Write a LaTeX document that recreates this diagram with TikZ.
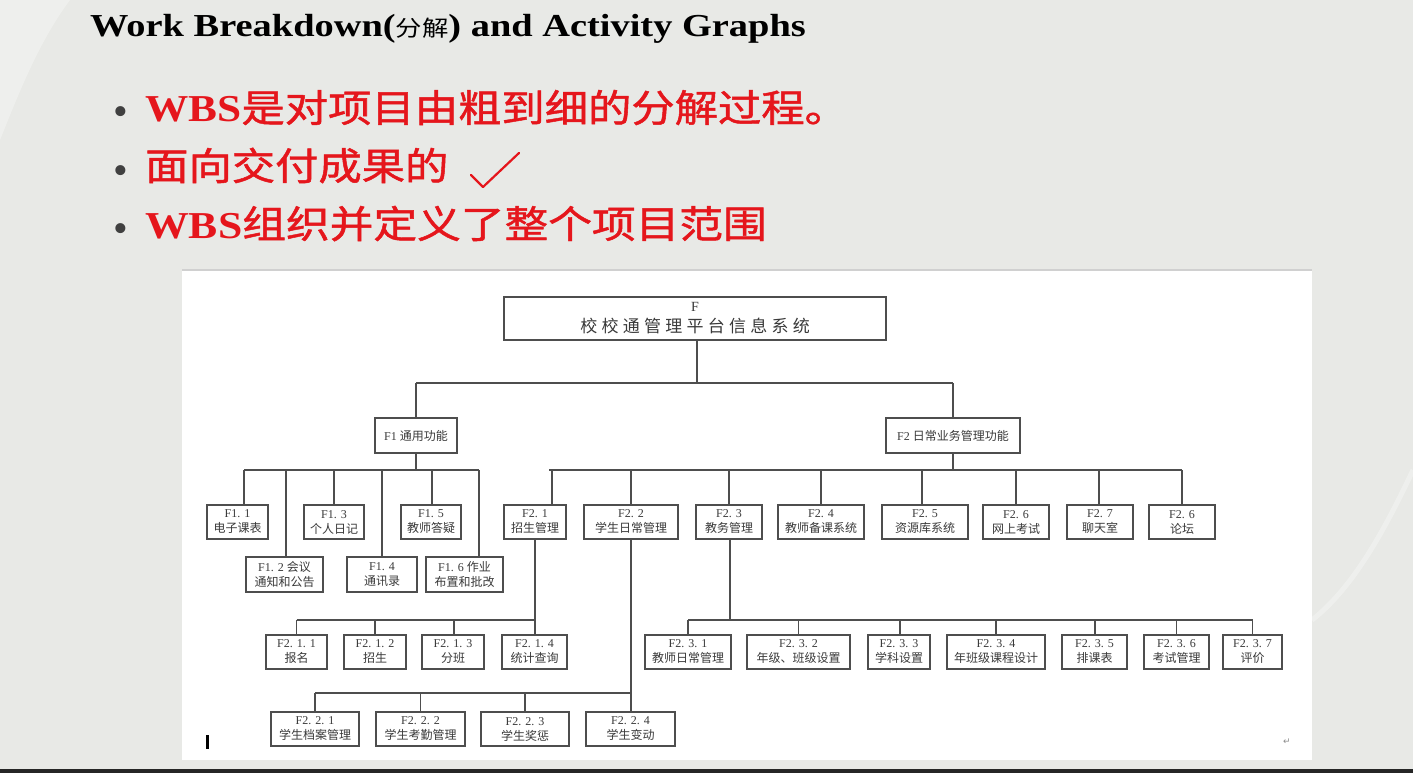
\documentclass[tikz,border=0pt]{standalone}
\usepackage{fontspec}
\setmainfont{Liberation Serif}
\newfontfamily\cjk{Noto Sans CJK SC}
\newfontfamily\cjkheavy[FakeBold=1.2]{Noto Sans CJK SC}
\newfontfamily\cjkwide[LetterSpace=25]{Noto Sans CJK SC}
\newfontfamily\symfont{DejaVu Sans}

\definecolor{slidebg}{HTML}{E8E9E6}
\definecolor{bulletred}{HTML}{E5161C}
\definecolor{boxline}{HTML}{4E4E4E}
\definecolor{boxtext}{HTML}{3A3A3A}
\definecolor{panelline}{HTML}{D0D0D0}

\tikzset{
  wbox/.style={draw=boxline, line width=1.3pt, fill=white, text=boxtext,
    align=center, inner sep=0pt, minimum height=34pt,
    font=\fontsize{12}{15}\selectfont},
  conn/.style={draw=boxline, line width=1.3pt},
  bullet/.style={anchor=base west, text=bulletred, inner sep=0pt},
  dot/.style={anchor=base west, text=black!75, inner sep=0pt,
    font=\fontsize{42}{42}\selectfont},
}

% vertical drop from a bus line to the top of a box (optional x offset)
\newcommand\dropto[3]{\draw[conn] ([xshift=#3]#1.north) -- ([xshift=#3]#1.north |- #2);}

\begin{document}
\begin{tikzpicture}[x=1pt,y=-1pt]
\useasboundingbox (0,0) rectangle (1413,773);
\fill[slidebg] (0,0) rectangle (1413,773);
% soft highlights of the slide background
\fill[white, opacity=0.3] (0,0) -- (70,0) .. controls (40,40) and (20,90) .. (0,140) -- cycle;
\draw[white, opacity=0.3, line width=5pt] (1413,470) .. controls (1380,540) and (1350,590) .. (1312,620);
\fill[black!85] (0,769) rectangle (1413,773);

% heading and bullets
\node[anchor=base west, inner sep=0pt] (title) at (90,37)
  {\scalebox{1.2}[1]{\fontsize{32}{32}\selectfont\bfseries Work Breakdown({\cjk\mdseries\fontsize{22}{22}\selectfont 分解}) and Activity Graphs}};

\node[dot] (d1) at (113,126) {•};
\node[bullet] (b1) at (145,122)
  {\scalebox{1.14}[1]{\fontsize{38}{38}\selectfont\bfseries WBS{\cjkheavy\mdseries 是对项目由粗到细的分解过程。}}};
\node[dot] (d2) at (113,184) {•};
\node[bullet] (b2) at (145,180)
  {\scalebox{1.14}[1]{\fontsize{38}{38}\selectfont\cjkheavy 面向交付成果的}};
\draw[bulletred, line width=2.2pt, line cap=round, line join=round]
  (471,175) -- (483,187) -- (519,153);
\node[dot] (d3) at (113,242) {•};
\node[bullet] (b3) at (145,238)
  {\scalebox{1.15}[1]{\fontsize{38}{38}\selectfont\bfseries WBS{\cjkheavy\mdseries 组织并定义了整个项目范围}}};

% white panel holding the chart
\fill[white] (182,270) rectangle (1312,760);
\draw[panelline, line width=2pt] (182,270) -- (1312,270);

% bus lines
\coordinate (busR) at (0,383);
\coordinate (busA) at (0,470);
\coordinate (busB) at (0,620);
\coordinate (busC) at (0,693);

% root
\node[wbox, minimum width=382pt, minimum height=43pt] (root) at (695,318.5)
  {\fontsize{14}{14}\selectfont F\\[6pt]{\cjkwide\fontsize{17}{17}\selectfont 校校通管理平台信息系统}};

% second level
\node[wbox, minimum width=82pt, minimum height=35pt] (f1) at (416,435.5) {F1 {\cjk 通用功能}};
\node[wbox, minimum width=134pt, minimum height=35pt] (f2) at (953,435.5) {F2 {\cjk 日常业务管理功能}};

% F1 children
\node[wbox, minimum width=61pt] (f11) at (237.5,522) {F1. 1\\{\cjk 电子课表}};
\node[wbox, minimum width=60pt] (f13) at (334,522) {F1. 3\\{\cjk 个人日记}};
\node[wbox, minimum width=60pt] (f15) at (431,522) {F1. 5\\{\cjk 教师答疑}};
\node[wbox, minimum width=77pt, minimum height=35pt] (f12) at (284.5,574.5) {F1. 2 {\cjk 会议}\\{\cjk 通知和公告}};
\node[wbox, minimum width=70pt, minimum height=35pt] (f14) at (382,574.5) {F1. 4\\{\cjk 通讯录}};
\node[wbox, minimum width=77pt, minimum height=35pt] (f16) at (464.5,574.5) {F1. 6 {\cjk 作业}\\{\cjk 布置和批改}};

% F2 children
\node[wbox, minimum width=62pt] (f21) at (535,522) {F2. 1\\{\cjk 招生管理}};
\node[wbox, minimum width=94pt] (f22) at (631,522) {F2. 2\\{\cjk 学生日常管理}};
\node[wbox, minimum width=66pt] (f23) at (729,522) {F2. 3\\{\cjk 教务管理}};
\node[wbox, minimum width=86pt] (f24) at (821,522) {F2. 4\\{\cjk 教师备课系统}};
\node[wbox, minimum width=86pt] (f25) at (925,522) {F2. 5\\{\cjk 资源库系统}};
\node[wbox, minimum width=66pt] (f26) at (1016,522) {F2. 6\\{\cjk 网上考试}};
\node[wbox, minimum width=66pt] (f27) at (1100,522) {F2. 7\\{\cjk 聊天室}};
\node[wbox, minimum width=66pt] (f28) at (1182,522) {F2. 6\\{\cjk 论坛}};

% F2.1 children
\node[wbox, minimum width=61pt] (f211) at (296.5,652) {F2. 1. 1\\{\cjk 报名}};
\node[wbox, minimum width=62pt] (f212) at (375,652) {F2. 1. 2\\{\cjk 招生}};
\node[wbox, minimum width=62pt] (f213) at (453,652) {F2. 1. 3\\{\cjk 分班}};
\node[wbox, minimum width=65pt] (f214) at (534.5,652) {F2. 1. 4\\{\cjk 统计查询}};

% F2.2 children
\node[wbox, minimum width=88pt] (f221) at (315,729) {F2. 2. 1\\{\cjk 学生档案管理}};
\node[wbox, minimum width=89pt] (f222) at (420.5,729) {F2. 2. 2\\{\cjk 学生考勤管理}};
\node[wbox, minimum width=88pt] (f223) at (525,729) {F2. 2. 3\\{\cjk 学生奖惩}};
\node[wbox, minimum width=89pt] (f224) at (630.5,729) {F2. 2. 4\\{\cjk 学生变动}};

% F2.3 children
\node[wbox, minimum width=86pt] (f231) at (688,652) {F2. 3. 1\\{\cjk 教师日常管理}};
\node[wbox, minimum width=103pt] (f232) at (798.5,652) {F2. 3. 2\\{\cjk 年级、班级设置}};
\node[wbox, minimum width=62pt] (f233) at (899,652) {F2. 3. 3\\{\cjk 学科设置}};
\node[wbox, minimum width=98pt] (f234) at (996,652) {F2. 3. 4\\{\cjk 年班级课程设计}};
\node[wbox, minimum width=65pt] (f235) at (1094.5,652) {F2. 3. 5\\{\cjk 排课表}};
\node[wbox, minimum width=65pt] (f236) at (1176.5,652) {F2. 3. 6\\{\cjk 考试管理}};
\node[wbox, minimum width=59pt] (f237) at (1252.5,652) {F2. 3. 7\\{\cjk 评价}};

% root to level two
\draw[conn] ([xshift=2pt]root.south) -- ([xshift=2pt]root.south |- busR);
\draw[conn] (f1.north |- busR) -- (f2.north |- busR);
\dropto{f1}{busR}{0pt}
\dropto{f2}{busR}{0pt}

% F1 branch
\draw[conn] (f1.south) -- (f1.south |- busA);
\draw[conn] ([xshift=6.5pt]f11.north |- busA) -- ([xshift=14.5pt]f16.north |- busA);
\dropto{f11}{busA}{6.5pt}
\draw[conn] ([xshift=1.5pt]f12.north) -- ([xshift=1.5pt]f12.north |- busA);
\dropto{f13}{busA}{0pt}
\dropto{f14}{busA}{0pt}
\dropto{f15}{busA}{1pt}
\dropto{f16}{busA}{14.5pt}

% F2 branch
\draw[conn] (f2.south) -- (f2.south |- busA);
\draw[conn] ([xshift=14pt]f21.north |- busA) -- (f28.north |- busA);
\dropto{f21}{busA}{17pt}
\dropto{f22}{busA}{0pt}
\dropto{f23}{busA}{0pt}
\dropto{f24}{busA}{0pt}
\dropto{f25}{busA}{-3pt}
\dropto{f26}{busA}{0pt}
\dropto{f27}{busA}{-1pt}
\dropto{f28}{busA}{0pt}

% F2.1 branch
\draw[conn] (f21.south) -- (f21.south |- busB);
\draw[conn] (f211.north |- busB) -- (f21.south |- busB);
\dropto{f211}{busB}{0pt}
\dropto{f212}{busB}{0pt}
\dropto{f213}{busB}{1pt}
\dropto{f214}{busB}{0.5pt}

% F2.2 branch
\draw[conn] (f22.south) -- (f22.south |- busC);
\draw[conn] (f221.north |- busC) -- (f22.south |- busC);
\dropto{f221}{busC}{0pt}
\dropto{f222}{busC}{0pt}
\dropto{f223}{busC}{0pt}
\dropto{f224}{busC}{0.5pt}

% F2.3 branch
\draw[conn] ([xshift=1pt]f23.south) -- ([xshift=1pt]f23.south |- busB);
\draw[conn] (f231.north |- busB) -- (f237.north |- busB);
\dropto{f231}{busB}{0pt}
\dropto{f232}{busB}{0pt}
\dropto{f233}{busB}{1pt}
\dropto{f234}{busB}{0pt}
\dropto{f235}{busB}{0.5pt}
\dropto{f236}{busB}{0pt}
\dropto{f237}{busB}{0pt}

% text cursor and paragraph mark of the page
\fill[black] (206,735) rectangle (208.5,749);
\node[text=black!45, inner sep=0pt, font=\symfont\fontsize{9}{9}\selectfont] (para) at (1287,742) {↵};
\end{tikzpicture}
\end{document}
